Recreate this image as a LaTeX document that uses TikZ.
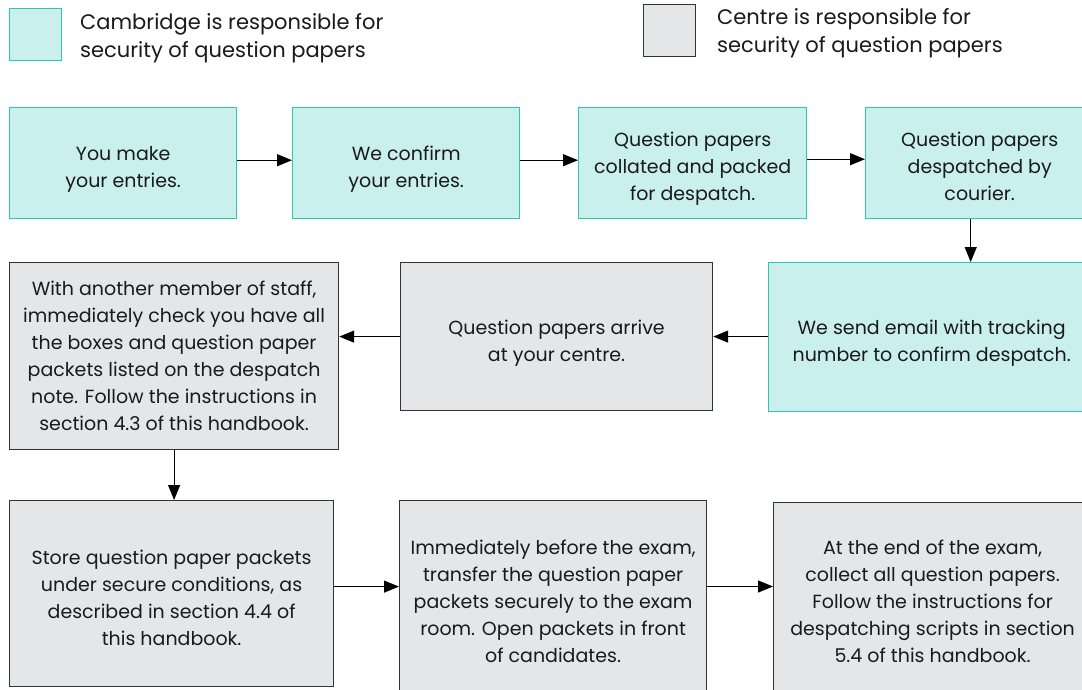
\documentclass[tikz,border=0pt]{standalone}
\usepackage{fontspec}
\setmainfont{Poppins}
\usetikzlibrary{arrows.meta}

\definecolor{camfill}{HTML}{C9F0EC}
\definecolor{camline}{HTML}{2EC4B6}
\definecolor{cenfill}{HTML}{E5E6E8}
\definecolor{cenline}{HTML}{333333}
\definecolor{ink}{HTML}{1A1A1A}

\newcommand{\topgap}[1]{\rule{0pt}{#1}}

\tikzset{
  box/.style={anchor=north west, align=center, inner sep=0pt, text=ink},
  cam/.style={box, draw=camline, fill=camfill, line width=1.4pt},
  centre/.style={box, draw=cenline, fill=cenfill, line width=1.2pt},
  legend/.style={anchor=west, align=left, inner sep=0pt, text=ink, font=\fontsize{21}{28}\selectfont},
  flow/.style={-{Triangle[length=15pt,width=12pt]}, line width=1.2pt, draw=black},
}

\begin{document}
\begin{tikzpicture}[x=1pt, y=-1pt, font=\fontsize{19}{27}\selectfont]
\clip (0,0) rectangle (1082,689);
\fill[white] (0,0) rectangle (1082,689);

\node[cam, minimum width=52pt, minimum height=52pt] (keycam) at (9,8) {};
\node[legend] (keycamtext) at (80,38) {Cambridge is responsible for\\security of question papers};
\node[centre, minimum width=52pt, minimum height=52pt] (keycen) at (643,4) {};
\node[legend] (keycentext) at (717,33) {Centre is responsible for\\security of question papers};

\node[cam, minimum width=227pt, minimum height=111pt] (make) at (9,107) {\topgap{26pt}You make\\your entries.};
\node[cam, minimum width=227pt, minimum height=111pt] (confirm) at (292,107) {\topgap{26pt}We confirm\\your entries.};
\node[cam, minimum width=228pt, minimum height=111pt] (packed) at (578,107) {\topgap{26pt}Question papers\\collated and packed\\for despatch.};
\node[cam, minimum width=228pt, minimum height=111pt] (courier) at (865,107) {\topgap{20pt}Question papers\\despatched by\\courier.};

\node[cam, minimum width=326pt, minimum height=149pt] (email) at (768,262) {\topgap{26pt}We send email with tracking\\number to confirm despatch.};
\node[centre, minimum width=312pt, minimum height=148pt] (arrive) at (400,262) {\topgap{27pt}Question papers arrive\\at your centre.};
\node[centre, minimum width=329pt, minimum height=187pt] (check) at (9,262) {With another member of staff,\\immediately check you have all\\the boxes and question paper\\packets listed on the despatch\\note. Follow the instructions in\\section 4.3 of this handbook.};

\node[centre, minimum width=324pt, minimum height=186pt] (store) at (9,500) {\topgap{22pt}Store question paper packets\\under secure conditions, as\\described in section 4.4 of\\this handbook.};
\node[centre, minimum width=307pt, minimum height=202pt] (transfer) at (399,500) {Immediately before the exam,\\transfer the question paper\\packets securely to the exam\\room. Open packets in front\\of candidates.};
\node[centre, minimum width=318pt, minimum height=198pt] (collect) at (773,502) {At the end of the exam,\\collect all question papers.\\Follow the instructions for\\despatching scripts in section\\5.4 of this handbook.};

\draw[flow] ([yshift=3pt]make.east) -- ([yshift=3pt]confirm.west);
\draw[flow] ([yshift=3pt]confirm.east) -- ([yshift=3pt]packed.west);
\draw[flow] ([yshift=4pt]packed.east) -- ([yshift=4pt]courier.west);
\draw[flow] ([xshift=-9pt]courier.south) -- ([xshift=-9pt]courier.south |- email.north);
\draw[flow] (email.west |- arrive.east) -- (arrive.east);
\draw[flow] (arrive.west) -- (arrive.west -| check.east);
\draw[flow] (check.south) -- (check.south |- store.north);
\draw[flow] ([yshift=7pt]store.east) -- ([yshift=7pt]store.east -| transfer.west);
\draw[flow] (transfer.east |- 0,586.5) -- (collect.west |- 0,586.5);
\end{tikzpicture}
\end{document}
